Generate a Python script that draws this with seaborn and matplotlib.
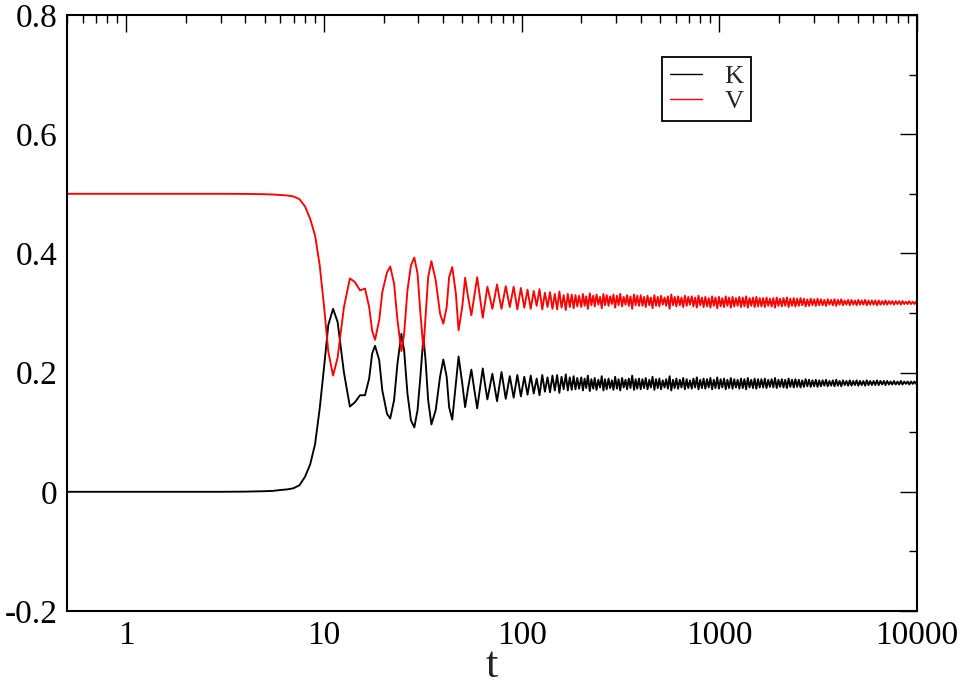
import numpy as np
import pandas as pd
import matplotlib
matplotlib.use("Agg")
import matplotlib.pyplot as plt
import seaborn as sns
from matplotlib.ticker import FixedLocator, FuncFormatter, LogLocator, MultipleLocator, NullFormatter

# ---------------- data ----------------
t_early = [0.5, 1, 2, 3, 4, 5, 5.5, 6, 6.5, 7,
           7.5, 8, 8.5, 9, 9.5, 10, 10.5, 11.1, 11.7, 12.6,
           13.5, 14.3, 15.2, 16.1, 16.9, 17.5, 18.1, 19.0, 19.7, 20.8,
           21.6, 22.6, 23.5, 24.6, 25.4, 26.4, 27.5, 28.6, 29.7, 30.7,
           31.8, 32.6, 33.6, 34.9, 36.7, 38.6, 40.1, 41.7, 42.9, 44.5,
           46.4, 47.9, 50.0, 51.7, 53.5, 55.6, 57.5, 59.5, 61.5, 63.5,
           65.2, 67, 69, 71, 73, 75, 77, 79, 81, 83,
           85, 87]
K_early = [0, 0, 0, 0, 0.0003, 0.001, 0.0015, 0.003, 0.004, 0.006,
           0.011, 0.025, 0.046, 0.08, 0.14, 0.21, 0.28, 0.307, 0.285, 0.2,
           0.143, 0.15, 0.162, 0.162, 0.19, 0.232, 0.245, 0.221, 0.170, 0.131,
           0.123, 0.154, 0.215, 0.265, 0.237, 0.165, 0.120, 0.108, 0.137, 0.193,
           0.261, 0.221, 0.154, 0.113, 0.137, 0.193, 0.222, 0.193, 0.142, 0.121,
           0.182, 0.227, 0.182, 0.142, 0.174, 0.205, 0.172, 0.140, 0.174, 0.207,
           0.18, 0.155, 0.177, 0.198, 0.175, 0.152, 0.177, 0.201, 0.178, 0.156,
           0.175, 0.194]
V_early = [0.5, 0.5, 0.5, 0.5, 0.4998, 0.4993, 0.4988, 0.498, 0.4972, 0.4955,
           0.491, 0.479, 0.458, 0.43, 0.38, 0.31, 0.235, 0.195, 0.225, 0.31,
           0.358, 0.352, 0.338, 0.341, 0.310, 0.270, 0.255, 0.288, 0.335, 0.368,
           0.378, 0.349, 0.288, 0.236, 0.265, 0.338, 0.380, 0.393, 0.366, 0.300,
           0.239, 0.293, 0.360, 0.387, 0.355, 0.299, 0.282, 0.310, 0.360, 0.377,
           0.333, 0.271, 0.310, 0.359, 0.327, 0.296, 0.328, 0.36, 0.326, 0.292,
           0.318, 0.344, 0.326, 0.307, 0.327, 0.348, 0.326, 0.307, 0.326, 0.345,
           0.327, 0.31]

t_osc = [91, 95, 99, 103, 107, 111, 115, 119, 123, 127,
         131, 135, 139, 143, 147, 151, 155, 159, 163, 167,
         171, 175, 179, 183, 187, 191, 195]
K_osc = [0.158, 0.196, 0.160, 0.193, 0.163, 0.195, 0.165, 0.190, 0.162, 0.196,
         0.168, 0.192, 0.167, 0.195, 0.170, 0.196, 0.166, 0.193, 0.172, 0.197,
         0.170, 0.192, 0.171, 0.194, 0.172, 0.191, 0.173]
V_osc = [0.344, 0.306, 0.342, 0.309, 0.339, 0.307, 0.337, 0.312, 0.340, 0.306,
         0.334, 0.310, 0.335, 0.307, 0.332, 0.306, 0.336, 0.309, 0.330, 0.305,
         0.332, 0.310, 0.331, 0.308, 0.330, 0.311, 0.329]

t_tail = [200, 204, 208, 212, 216, 221, 225, 230, 234, 239,
          244, 249, 254, 259, 264, 269, 275, 280, 286, 291,
          297, 303, 309, 315, 322, 328, 335, 341, 348, 355,
          362, 370, 377, 384, 392, 400,
          408, 416, 424, 433, 442, 450, 459, 469, 478, 488,
          497, 507, 517, 528, 538, 549, 560, 571, 583, 594,
          606, 618, 631, 643, 656, 669, 683, 696, 710, 725,
          739, 754, 769, 784, 800,
          816, 832, 849, 866, 883, 901, 919, 937, 956, 975,
          995, 1015, 1035, 1056, 1077, 1098, 1120, 1143, 1166, 1189,
          1213, 1237, 1262, 1287, 1313, 1339, 1366, 1393, 1421, 1450,
          1479, 1508, 1538, 1569, 1600,
          1632, 1665, 1698, 1732, 1767, 1802, 1838, 1875, 1912, 1951,
          1990, 2029, 2070, 2111, 2154, 2197, 2241, 2285, 2331, 2378,
          2425, 2474, 2523, 2574, 2625, 2678, 2731, 2786, 2842, 2899,
          2957, 3016, 3076, 3138, 3200,
          3264, 3330, 3396, 3464, 3533, 3604, 3676, 3750, 3825, 3901,
          3979, 4059, 4140, 4223, 4307, 4393, 4481, 4571, 4662, 4756,
          4851, 4948, 5047, 5147, 5250, 5355, 5463, 5572, 5683, 5797,
          5913, 6031, 6152, 6275, 6400,
          6528, 6659, 6792, 6928, 7066, 7208, 7352, 7499, 7649, 7802,
          7958, 8117, 8279, 8445, 8614, 8786, 8962, 9141, 9324, 9511,
          9701, 9895, 10000]
K_tail = [0.192, 0.170, 0.190, 0.174, 0.195, 0.169, 0.189, 0.173, 0.191, 0.171,
          0.188, 0.175, 0.194, 0.170, 0.189, 0.172, 0.190, 0.174, 0.187, 0.171,
          0.193, 0.173, 0.189, 0.170, 0.191, 0.175, 0.188, 0.172, 0.190, 0.174,
          0.195, 0.171, 0.189, 0.173, 0.190, 0.172,
          0.189, 0.174, 0.191, 0.172, 0.188, 0.175, 0.193, 0.171, 0.189, 0.174,
          0.190, 0.172, 0.187, 0.175, 0.189, 0.173, 0.194, 0.170, 0.188, 0.174,
          0.190, 0.173, 0.188, 0.175, 0.191, 0.172, 0.189, 0.174, 0.187, 0.173,
          0.190, 0.175, 0.192, 0.172, 0.188,
          0.174, 0.190, 0.173, 0.189, 0.175, 0.191, 0.172, 0.188, 0.174, 0.192,
          0.173, 0.189, 0.175, 0.190, 0.172, 0.188, 0.174, 0.191, 0.173, 0.189,
          0.175, 0.188, 0.173, 0.190, 0.174, 0.189, 0.172, 0.191, 0.175, 0.188,
          0.174, 0.190, 0.173, 0.189, 0.175,
          0.189, 0.175, 0.190, 0.174, 0.188, 0.176, 0.189, 0.175, 0.191, 0.174,
          0.188, 0.176, 0.189, 0.175, 0.188, 0.174, 0.190, 0.176, 0.188, 0.175,
          0.189, 0.176, 0.188, 0.175, 0.187, 0.176, 0.189, 0.177, 0.188, 0.176,
          0.187, 0.177, 0.188, 0.176, 0.187,
          0.177, 0.187, 0.178, 0.188, 0.177, 0.186, 0.178, 0.187, 0.177, 0.188,
          0.178, 0.186, 0.177, 0.187, 0.179, 0.186, 0.178, 0.187, 0.178, 0.186,
          0.179, 0.187, 0.178, 0.186, 0.179, 0.186, 0.178, 0.187, 0.179, 0.186,
          0.179, 0.186, 0.179, 0.187, 0.179,
          0.186, 0.180, 0.186, 0.179, 0.186, 0.180, 0.185, 0.180, 0.186, 0.180,
          0.185, 0.180, 0.186, 0.180, 0.185, 0.181, 0.185, 0.180, 0.185, 0.181,
          0.185, 0.181, 0.183]
V_tail = [0.310, 0.332, 0.312, 0.328, 0.307, 0.333, 0.313, 0.329, 0.311, 0.331,
          0.314, 0.327, 0.308, 0.332, 0.313, 0.330, 0.312, 0.328, 0.315, 0.331,
          0.309, 0.329, 0.313, 0.332, 0.311, 0.327, 0.314, 0.330, 0.312, 0.328,
          0.307, 0.331, 0.313, 0.329, 0.312, 0.330,
          0.312, 0.327, 0.310, 0.329, 0.313, 0.326, 0.308, 0.330, 0.312, 0.327,
          0.311, 0.329, 0.314, 0.326, 0.312, 0.328, 0.307, 0.331, 0.313, 0.327,
          0.311, 0.328, 0.313, 0.326, 0.310, 0.329, 0.312, 0.327, 0.314, 0.328,
          0.311, 0.326, 0.309, 0.329, 0.313,
          0.326, 0.310, 0.327, 0.311, 0.325, 0.309, 0.328, 0.312, 0.326, 0.308,
          0.327, 0.311, 0.325, 0.310, 0.328, 0.312, 0.326, 0.309, 0.327, 0.311,
          0.325, 0.312, 0.327, 0.310, 0.326, 0.311, 0.328, 0.309, 0.325, 0.312,
          0.326, 0.310, 0.327, 0.311, 0.325,
          0.311, 0.325, 0.310, 0.326, 0.312, 0.324, 0.311, 0.325, 0.309, 0.326,
          0.312, 0.324, 0.311, 0.325, 0.312, 0.326, 0.310, 0.324, 0.312, 0.325,
          0.311, 0.324, 0.312, 0.325, 0.313, 0.324, 0.311, 0.323, 0.312, 0.324,
          0.313, 0.323, 0.312, 0.324, 0.313,
          0.323, 0.313, 0.322, 0.312, 0.323, 0.314, 0.322, 0.313, 0.323, 0.312,
          0.322, 0.314, 0.323, 0.313, 0.321, 0.314, 0.322, 0.313, 0.322, 0.314,
          0.321, 0.313, 0.322, 0.314, 0.321, 0.314, 0.322, 0.313, 0.321, 0.314,
          0.321, 0.314, 0.321, 0.313, 0.321,
          0.314, 0.320, 0.314, 0.321, 0.314, 0.320, 0.315, 0.320, 0.314, 0.320,
          0.315, 0.320, 0.314, 0.320, 0.315, 0.319, 0.315, 0.320, 0.315, 0.319,
          0.315, 0.319, 0.317]

series_names = ["K", "V"]
series_colors = {"K": "black", "V": "red"}
x_major = [1, 10, 100, 1000, 10000]
x_label = "t"

# ---------------- assemble ----------------
def seg(t, k, v):
    n = min(len(t), len(k), len(v))
    return list(t[:n]), list(k[:n]), list(v[:n])

tt, kk, vv = [], [], []
for a, b, c in [(t_early, K_early, V_early), (t_osc, K_osc, V_osc), (t_tail, K_tail, V_tail)]:
    x, y, z = seg(a, b, c)
    tt += x; kk += y; vv += z

df = pd.DataFrame({
    "t": tt + tt,
    "value": kk + vv,
    "series": ["K"] * len(tt) + ["V"] * len(tt),
})

# ---------------- style ----------------
sns.set_style("white")
plt.rcParams["font.family"] = ["Liberation Serif", "DejaVu Serif"]
plt.rcParams["axes.unicode_minus"] = False

fig = plt.figure(figsize=(9.63, 6.84), dpi=100)
ax = fig.add_axes([67 / 963, 1 - 611 / 684, 850 / 963, 596 / 684])

sns.lineplot(data=df, x="t", y="value", hue="series", palette=series_colors,
             hue_order=series_names, estimator=None, sort=False,
             linewidth=1.35, ax=ax)

ax.set_xscale("log")
ax.set_xlim(0.5, 10000)
ax.set_ylim(-0.2, 0.8)

ax.xaxis.set_major_locator(FixedLocator(x_major))
ax.xaxis.set_major_formatter(FuncFormatter(lambda v, p: "%g" % v))
ax.xaxis.set_minor_locator(LogLocator(base=10, subs=np.arange(2, 10), numticks=100))
ax.xaxis.set_minor_formatter(NullFormatter())
ax.yaxis.set_major_locator(MultipleLocator(0.2))
ax.yaxis.set_minor_locator(MultipleLocator(0.1))
ax.yaxis.set_major_formatter(FuncFormatter(lambda v, p: "%g" % (round(v, 6) + 0.0)))

for sp in ax.spines.values():
    sp.set_visible(True)
    sp.set_color("black")
    sp.set_linewidth(1.5)

ax.tick_params(which="both", direction="in", top=True, right=True, colors="black")
ax.tick_params(which="major", length=12, width=1.0, labelsize=24, pad=7)
ax.tick_params(which="minor", length=6, width=1.0)

ax.set_xlabel(x_label, fontsize=32, labelpad=-4)
ax.set_ylabel("")

handles, labels = ax.get_legend_handles_labels()
leg = ax.legend(handles, labels, loc="upper right", bbox_to_anchor=(0.805, 0.93),
                borderaxespad=0, fontsize=19, frameon=True, fancybox=False,
                edgecolor="black", handlelength=1.2, handletextpad=0.85,
                labelspacing=0.05, borderpad=0.3, title=None)
leg.get_frame().set_linewidth(1.3)
leg.get_frame().set_alpha(1)
for h in leg.get_lines():
    h.set_linewidth(1.0)

fig.savefig("out.png", dpi=100, facecolor="white")
